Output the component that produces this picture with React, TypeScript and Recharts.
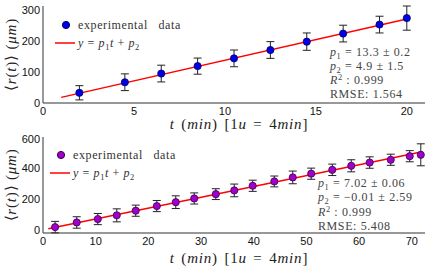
import React from "react";
import { ComposedChart, Scatter, Line, XAxis, YAxis, ErrorBar, Legend } from "recharts";

// upper panel: 1u = 4 min, units on the t axis
const topT = [2, 4.5, 6.5, 8.5, 10.5, 12.5, 14.5, 16.5, 18.5, 20];
const topR = [33, 67, 95, 119, 144, 171, 198, 224, 253, 274];
const topErr = [23, 27, 27, 26, 27, 27, 28, 27, 27, 39];
const topFitT = [1, 20];
const topFitR = [18.2, 270.9];
const topXTicks = [0, 5, 10, 15, 20];
const topYTicks = [0, 100, 200, 300];
const topStats = ["13.3 ± 0.2", "4.9 ± 1.5", "0.999", "1.564"];

// lower panel: minutes
const botT = [2.3, 6.4, 10.4, 14, 17.6, 21.6, 25.2, 28.7, 32.8, 36.3, 39.8, 43.9, 47.4, 50.9, 54.9, 58.5, 62, 66, 69.6, 71.7];
const botR = [18, 48, 70, 94, 124, 154, 179, 203, 231, 255, 285, 313, 339, 363, 388, 414, 435, 453, 476, 485];
const botErr = [37, 37, 36, 42, 36, 36, 41, 36, 35, 41, 36, 35, 41, 36, 37, 39, 37, 36, 36, 71];
const botFitT = [1, 72];
const botFitR = [7.0, 505.4];
const botXTicks = [0, 10, 20, 30, 40, 50, 60, 70];
const botYTicks = [0, 200, 400, 600];
const botStats = ["7.02 ± 0.06", "−0.01 ± 2.59", "0.999", "5.408"];

const serif = "Liberation Serif";
const sans = "Liberation Sans";

const XLabel = ({ viewBox }: any) => (
  <text
    x={viewBox.x + viewBox.width / 2 + 5}
    y={viewBox.y + viewBox.height - 4}
    textAnchor="middle"
    fontFamily={serif}
    fontSize={15}
    letterSpacing={0.8}
    wordSpacing={2}
    fill="#222"
  >
    <tspan fontStyle="italic">t</tspan> (<tspan fontStyle="italic">min</tspan>) [1<tspan fontStyle="italic">u</tspan> = 4
    <tspan fontStyle="italic">min</tspan>]
  </text>
);

const YLabel = ({ viewBox }: any) => {
  const cx = 11;
  const cy = viewBox.y + viewBox.height / 2;
  return (
    <text
      x={cx}
      y={cy}
      transform={`rotate(-90 ${cx} ${cy})`}
      textAnchor="middle"
      dominantBaseline="central"
      fontFamily={serif}
      fontSize={15}
      letterSpacing={0.8}
      fill="#222"
    >
      ⟨<tspan fontStyle="italic">r</tspan>(<tspan fontStyle="italic">t</tspan>)⟩ (<tspan fontStyle="italic">μm</tspan>)
    </text>
  );
};

const sub = { fontSize: "70%", verticalAlign: "-0.3em", lineHeight: 0 };
const sup = { fontSize: "70%", verticalAlign: "0.45em", lineHeight: 0 };

const LegendBox = ({ fill, stroke }: { fill: string; stroke: string }) => (
  <div style={{ fontFamily: serif, fontSize: 12, letterSpacing: 0.6, color: "#333", lineHeight: "18px" }}>
    <div style={{ display: "flex", alignItems: "center" }}>
      <svg width={23} height={18}>
        <circle cx={11} cy={9} r={3.6} fill={fill} stroke={stroke} />
      </svg>
      <span style={{ wordSpacing: 7 }}>experimental data</span>
    </div>
    <div style={{ display: "flex", alignItems: "center" }}>
      <svg width={23} height={18}>
        <line x1={0} y1={9} x2={20} y2={9} stroke="#ff0000" strokeWidth={1.5} />
      </svg>
      <span>
        <i>y</i> = <i>p</i>
        <span style={sub}>1</span>
        <i>t</i> + <i>p</i>
        <span style={sub}>2</span>
      </span>
    </div>
  </div>
);

const Stats = ({ vals, left, top }: { vals: string[]; left: number; top: number }) => (
  <div
    style={{
      position: "absolute",
      left,
      top,
      fontFamily: serif,
      fontSize: 12,
      letterSpacing: 0.6,
      color: "#444",
      lineHeight: "14.3px",
      whiteSpace: "nowrap",
    }}
  >
    <div>
      <i>p</i>
      <span style={sub}>1</span> = {vals[0]}
    </div>
    <div>
      <i>p</i>
      <span style={sub}>2</span> = {vals[1]}
    </div>
    <div>
      <i>R</i>
      <span style={sup}>2</span> : {vals[2]}
    </div>
    <div>RMSE: {vals[3]}</div>
  </div>
);

interface PanelProps {
  top: number;
  height: number;
  marginTop: number;
  xAxisHeight: number;
  t: number[];
  r: number[];
  err: number[];
  fitT: number[];
  fitR: number[];
  xDomain: [number, number];
  yDomain: [number, number];
  xTicks: number[];
  yTicks: number[];
  fill: string;
  stroke: string;
  legendLeft: number;
  legendTop: number;
}

const Panel: React.FC<PanelProps> = (p) => {
  const points = p.t.map((t, i) => ({ t, r: p.r[i], e: p.err[i] }));
  const fit = p.fitT.map((t, i) => ({ t, fit: p.fitR[i] }));
  const tick = { fill: "#111", fontSize: 11, fontFamily: sans };
  const box = { stroke: "#333", strokeWidth: 1 };

  return (
    <div style={{ position: "absolute", left: 0, top: p.top }}>
      <ComposedChart width={436} height={p.height} margin={{ top: p.marginTop, right: 11, bottom: 0, left: 0 }}>
        <XAxis
          xAxisId="x"
          dataKey="t"
          type="number"
          domain={p.xDomain}
          ticks={p.xTicks}
          allowDataOverflow
          height={p.xAxisHeight}
          tickLine={false}
          tickSize={0}
          tickMargin={4}
          axisLine={box}
          tick={tick}
          label={XLabel}
        />
        <XAxis xAxisId="xb" type="number" domain={p.xDomain} ticks={p.xTicks} orientation="bottom" mirror height={0} tick={false} axisLine={false} tickLine={box} tickSize={4} />
        <XAxis xAxisId="xt" type="number" domain={p.xDomain} ticks={p.xTicks} orientation="top" mirror height={0} tick={false} axisLine={box} tickLine={box} tickSize={4} />
        <YAxis
          yAxisId="y"
          type="number"
          domain={p.yDomain}
          ticks={p.yTicks}
          allowDataOverflow
          width={43}
          tickLine={false}
          tickSize={0}
          tickMargin={3}
          axisLine={box}
          tick={tick}
          label={YLabel}
        />
        <YAxis yAxisId="yl" type="number" domain={p.yDomain} ticks={p.yTicks} orientation="left" mirror width={0} tick={false} axisLine={false} tickLine={box} tickSize={4} />
        <YAxis yAxisId="yr" type="number" domain={p.yDomain} ticks={p.yTicks} orientation="right" mirror width={0} tick={false} axisLine={box} tickLine={box} tickSize={4} />
        <Scatter
          xAxisId="x"
          yAxisId="y"
          data={points}
          dataKey="r"
          isAnimationActive={false}
          shape={(s: any) => <circle cx={s.cx} cy={s.cy} r={3.6} fill={p.fill} stroke={p.stroke} strokeWidth={0.8} />}
        >
          <ErrorBar dataKey="e" direction="y" width={4} stroke="#222" strokeWidth={1} />
        </Scatter>
        <Line
          xAxisId="x"
          yAxisId="y"
          data={fit}
          dataKey="fit"
          type="linear"
          stroke="#ff0000"
          strokeWidth={1.5}
          dot={false}
          isAnimationActive={false}
        />
        <Legend
          layout="vertical"
          align="center"
          verticalAlign="middle"
          wrapperStyle={{ left: p.legendLeft, top: p.legendTop, width: "auto", height: "auto" }}
          content={() => <LegendBox fill={p.fill} stroke={p.stroke} />}
        />
      </ComposedChart>
    </div>
  );
};

export default function App() {
  return (
    <div style={{ position: "absolute", left: 0, top: 0, width: 436, height: 267, background: "#fff", overflow: "hidden" }}>
      <Panel
        top={0}
        height={133}
        marginTop={6}
        xAxisHeight={30}
        t={topT}
        r={topR}
        err={topErr}
        fitT={topFitT}
        fitR={topFitR}
        xDomain={[0, 21]}
        yDomain={[0, 313]}
        xTicks={topXTicks}
        yTicks={topYTicks}
        fill="#0000e6"
        stroke="#00006a"
        legendLeft={55}
        legendTop={16}
      />
      <Panel
        top={133}
        height={134}
        marginTop={4}
        xAxisHeight={34}
        t={botT}
        r={botR}
        err={botErr}
        fitT={botFitT}
        fitR={botFitR}
        xDomain={[0, 72.5]}
        yDomain={[-20, 600]}
        xTicks={botXTicks}
        yTicks={botYTicks}
        fill="#a000c8"
        stroke="#3a0050"
        legendLeft={50}
        legendTop={13}
      />
      <Stats vals={topStats} left={330} top={44.6} />
      <Stats vals={botStats} left={318} top={176} />
    </div>
  );
}
